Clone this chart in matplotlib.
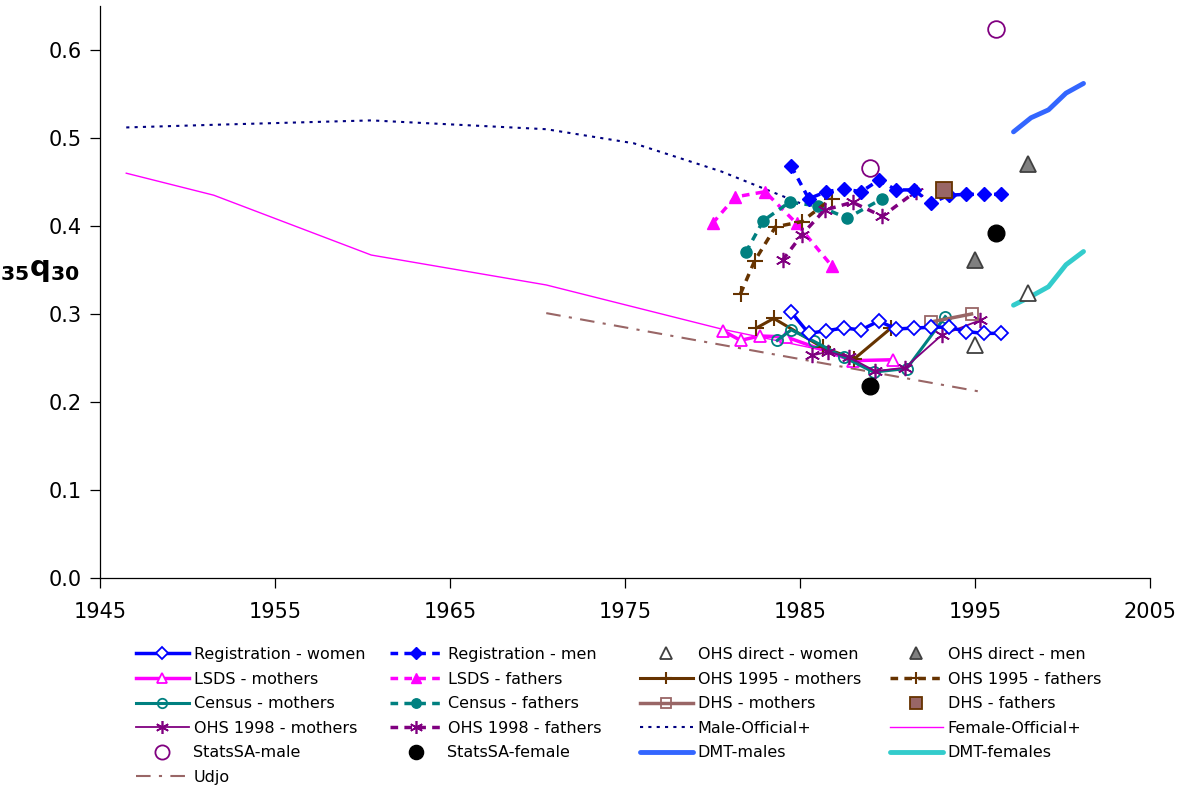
import matplotlib.pyplot as plt

# ---- data ----
reg_w_yr = [1984.5, 1985.5, 1986.5, 1987.5, 1988.5, 1989.5, 1990.5, 1991.5, 1992.5, 1993.5, 1994.5, 1995.5, 1996.5]
reg_w = [0.302, 0.278, 0.281, 0.284, 0.282, 0.292, 0.283, 0.284, 0.285, 0.285, 0.280, 0.278, 0.278]
reg_m_yr = reg_w_yr
reg_m = [0.468, 0.431, 0.439, 0.442, 0.439, 0.452, 0.441, 0.441, 0.426, 0.435, 0.436, 0.436, 0.436]

lsds_m_yr = [1980.6, 1981.6, 1982.7, 1984.2, 1988.0, 1990.3]
lsds_m = [0.281, 0.270, 0.275, 0.274, 0.247, 0.248]
lsds_f_yr = [1980.0, 1981.3, 1983.0, 1984.8, 1986.8]
lsds_f = [0.403, 0.433, 0.439, 0.403, 0.355]

census_m_yr = [1983.7, 1984.5, 1985.8, 1987.5, 1989.2, 1991.1, 1993.3]
census_m = [0.270, 0.282, 0.269, 0.251, 0.234, 0.238, 0.297]
census_f_yr = [1981.9, 1982.9, 1984.4, 1986.0, 1987.7, 1989.7]
census_f = [0.370, 0.406, 0.427, 0.423, 0.409, 0.431]

ohs98_m_yr = [1985.7, 1986.6, 1987.8, 1989.3, 1991.0, 1993.1, 1995.3]
ohs98_m = [0.253, 0.257, 0.251, 0.235, 0.239, 0.276, 0.293]
ohs98_f_yr = [1984.0, 1985.1, 1986.4, 1988.0, 1989.7, 1991.6]
ohs98_f = [0.361, 0.390, 0.418, 0.427, 0.411, 0.439]

ohs95_m_yr = [1982.5, 1983.5, 1986.3, 1988.1, 1990.2]
ohs95_m = [0.284, 0.295, 0.262, 0.249, 0.284]
ohs95_f_yr = [1981.6, 1982.4, 1983.6, 1985.1, 1986.8]
ohs95_f = [0.323, 0.360, 0.399, 0.405, 0.431]

dhs_m_yr = [1992.5, 1994.8]
dhs_m = [0.291, 0.300]
dhs_f_yr = [1993.2]
dhs_f = [0.441]

ohsd_w_yr = [1995.0, 1998.0]
ohsd_w = [0.265, 0.324]
ohsd_m_yr = [1995.0, 1998.0]
ohsd_m = [0.361, 0.470]

stats_m_yr = [1989.0, 1996.2]
stats_m = [0.466, 0.624]
stats_f_yr = [1989.0, 1996.2]
stats_f = [0.218, 0.392]

male_off_yr = [1946.5, 1951.5, 1960.5, 1970.5, 1975.5, 1980.5, 1985.0]
male_off = [0.512, 0.515, 0.520, 0.510, 0.494, 0.462, 0.426]
fem_off_yr = [1946.5, 1951.5, 1960.5, 1970.5, 1980.5, 1986.5]
fem_off = [0.460, 0.435, 0.367, 0.333, 0.283, 0.258]

udjo_yr = [1970.5, 1995.5]
udjo = [0.301, 0.211]

dmt_yr = [1997.2, 1998.2, 1999.2, 2000.2, 2001.2]
dmt_m = [0.507, 0.523, 0.532, 0.551, 0.562]
dmt_f = [0.310, 0.320, 0.331, 0.356, 0.371]

BLUE = '#0000FF'
MAG = '#FF00FF'
TEAL = '#008080'
PURP = '#800080'
BROWN = '#663300'
ROSY = '#996666'
dash = (0, (2.2, 1.8))

fig = plt.figure(figsize=(11.81, 7.87), dpi=100)
ax = fig.add_axes([100 / 1181, 1 - 578 / 787, 1050 / 1181, 572 / 787])

h = {}
h['Udjo'], = ax.plot(udjo_yr, udjo, color=ROSY, lw=1.5, ls=(0, (7, 4, 1.5, 4)))
h['Male-Official+'], = ax.plot(male_off_yr, male_off, color='#000080', lw=1.5, ls=(0, (1.5, 2.5)))
h['Female-Official+'], = ax.plot(fem_off_yr, fem_off, color=MAG, lw=1.0)
h['DMT-males'], = ax.plot(dmt_yr, dmt_m, color='#3366FF', lw=3.5, solid_capstyle='round')
h['DMT-females'], = ax.plot(dmt_yr, dmt_f, color='#33CCCC', lw=3.5, solid_capstyle='round')

h['LSDS - fathers'], = ax.plot(lsds_f_yr, lsds_f, color=MAG, lw=2.5, ls=dash, marker='^', ms=9, mfc=MAG, mec=MAG)
h['Census - fathers'], = ax.plot(census_f_yr, census_f, color=TEAL, lw=2.5, ls=dash, marker='o', ms=8, mfc=TEAL, mec=TEAL)
h['OHS 1995 - fathers'], = ax.plot(ohs95_f_yr, ohs95_f, color=BROWN, lw=2.5, ls=dash, marker='+', ms=11, mew=1.5)
h['OHS 1998 - fathers'], = ax.plot(ohs98_f_yr, ohs98_f, color=PURP, lw=2.5, ls=dash, marker=(6, 2, 0), ms=11, mew=1.2)
h['Registration - men'], = ax.plot(reg_m_yr, reg_m, color=BLUE, lw=2.5, ls=dash, marker='D', ms=7, mfc=BLUE, mec=BLUE)

h['LSDS - mothers'], = ax.plot(lsds_m_yr, lsds_m, color=MAG, lw=2.5, marker='^', ms=9, mfc='white', mec=MAG, mew=1.3)
h['OHS 1995 - mothers'], = ax.plot(ohs95_m_yr, ohs95_m, color=BROWN, lw=2.2, marker='+', ms=11, mew=1.5)
h['Census - mothers'], = ax.plot(census_m_yr, census_m, color=TEAL, lw=2.2, marker='o', ms=8, mfc='none', mec=TEAL, mew=1.3)
h['OHS 1998 - mothers'], = ax.plot(ohs98_m_yr, ohs98_m, color=PURP, lw=1.3, marker=(6, 2, 0), ms=11, mew=1.2)
h['DHS - mothers'], = ax.plot(dhs_m_yr, dhs_m, color=ROSY, lw=2.5, marker='s', ms=8, mfc='none', mec=ROSY, mew=1.3)
h['Registration - women'], = ax.plot(reg_w_yr, reg_w, color=BLUE, lw=2.5, marker='D', ms=7, mfc='white', mec=BLUE, mew=1.3)

h['DHS - fathers'], = ax.plot(dhs_f_yr, dhs_f, ls='none', marker='s', ms=11, mfc=ROSY, mec=BROWN, mew=1.3)
h['OHS direct - women'], = ax.plot(ohsd_w_yr, ohsd_w, ls='none', marker='^', ms=11, mfc='white', mec='#404040', mew=1.3)
h['OHS direct - men'], = ax.plot(ohsd_m_yr, ohsd_m, ls='none', marker='^', ms=11, mfc='#808080', mec='#404040', mew=1.3)
h['StatsSA-male'], = ax.plot(stats_m_yr, stats_m, ls='none', marker='o', ms=12, mfc='white', mec=PURP, mew=1.3)
h['StatsSA-female'], = ax.plot(stats_f_yr, stats_f, ls='none', marker='o', ms=12, mfc='black', mec='black')

ax.set_xlim(1945, 2005)
ax.set_ylim(0, 0.65)
ax.set_xticks(range(1945, 2006, 10))
ax.set_yticks([0, 0.1, 0.2, 0.3, 0.4, 0.5, 0.6])
ax.set_yticklabels(['0.0', '0.1', '0.2', '0.3', '0.4', '0.5', '0.6'])
ax.tick_params(direction='out', length=7, width=0.9, labelsize=15, pad=6)
ax.tick_params(axis='x', pad=10)
for s in ['top', 'right']:
    ax.spines[s].set_visible(False)
for s in ['left', 'bottom']:
    ax.spines[s].set_linewidth(0.9)

fig.text(40 / 1181, 1 - 270 / 787, r'${}_{\mathbf{35}}\mathbf{q}_{\mathbf{30}}$',
         fontsize=21, ha='center', va='center')

# legend laid out in 4 separate columns like the Excel one
cols = [
    ['Registration - women', 'LSDS - mothers', 'Census - mothers', 'OHS 1998 - mothers', 'StatsSA-male', 'Udjo'],
    ['Registration - men', 'LSDS - fathers', 'Census - fathers', 'OHS 1998 - fathers', 'StatsSA-female'],
    ['OHS direct - women', 'OHS 1995 - mothers', 'DHS - mothers', 'Male-Official+', 'DMT-males'],
    ['OHS direct - men', 'OHS 1995 - fathers', 'DHS - fathers', 'Female-Official+', 'DMT-females'],
]
col_x = [136, 390, 640, 890]
for cx, labs in zip(col_x, cols):
    fig.legend([h[l] for l in labs], labs, loc='upper left',
               bbox_to_anchor=(cx / 1181, 1 - 647 / 787), frameon=False,
               fontsize=11.5, handlelength=3.3, handletextpad=0.3,
               labelspacing=0.6, borderpad=0, borderaxespad=0, markerscale=0.85)

fig.savefig('out.png', dpi=100)
